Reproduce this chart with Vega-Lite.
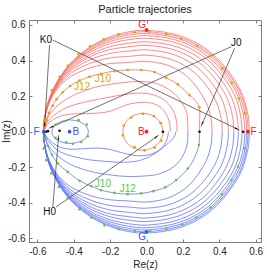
{
"$schema":"https://vega.github.io/schema/vega-lite/v6.json",
"width":232,"height":222,
"autosize":{"type":"none"},
"padding":{"left":29,"top":20,"right":6,"bottom":32},
"background":"white",
"title":{"text":"Particle trajectories","font":"Liberation Sans","fontSize":11,"fontWeight":"normal","color":"#1a1a1a","offset":5},
"config":{"view":{"stroke":"#7f7f7f","strokeWidth":1},"font":"Liberation Sans",
"axis":{"labelFont":"Liberation Sans","labelFontSize":10,"labelColor":"#262626","titleFont":"Liberation Sans","titleFontSize":10,"titleFontWeight":"normal","titleColor":"#262626","grid":false,"domainColor":"#7f7f7f","tickColor":"#7f7f7f","tickSize":-3,"labelPadding":7,"labelExpr":"replace(datum.label,'−','-')"}},
"datasets":{
"curves":[
{"c":"U0","i":0,"x":0.565,"y":0},{"c":"U0","i":1,"x":0.563,"y":0.05},{"c":"U0","i":2,"x":0.557,"y":0.099},{"c":"U0","i":3,"x":0.512,"y":0.241},{"c":"U0","i":4,"x":0.363,"y":0.437},{"c":"U0","i":5,"x":0.193,"y":0.536},{"c":"U0","i":6,"x":0,"y":0.57},{"c":"U0","i":7,"x":-0.1,"y":0.561},{"c":"U0","i":8,"x":-0.2,"y":0.533},{"c":"U0","i":9,"x":-0.3,"y":0.483},{"c":"U0","i":10,"x":-0.4,"y":0.403},{"c":"U0","i":11,"x":-0.46,"y":0.331},{"c":"U0","i":12,"x":-0.51,"y":0.245},{"c":"U0","i":13,"x":-0.545,"y":0.15},{"c":"U0","i":14,"x":-0.56,"y":0.076},{"c":"U0","i":15,"x":-0.565,"y":0},
{"c":"U1","i":0,"x":0.558,"y":0},{"c":"U1","i":1,"x":0.55,"y":0.098},{"c":"U1","i":2,"x":0.506,"y":0.238},{"c":"U1","i":3,"x":0.359,"y":0.43},{"c":"U1","i":4,"x":0.191,"y":0.528},{"c":"U1","i":5,"x":0,"y":0.562},{"c":"U1","i":6,"x":-0.1,"y":0.553},{"c":"U1","i":7,"x":-0.2,"y":0.526},{"c":"U1","i":8,"x":-0.3,"y":0.478},{"c":"U1","i":9,"x":-0.4,"y":0.399},{"c":"U1","i":10,"x":-0.46,"y":0.328},{"c":"U1","i":11,"x":-0.51,"y":0.243},{"c":"U1","i":12,"x":-0.545,"y":0.149},{"c":"U1","i":13,"x":-0.56,"y":0.075},{"c":"U1","i":14,"x":-0.565,"y":0},
{"c":"U2","i":0,"x":0.55,"y":0},{"c":"U2","i":1,"x":0.542,"y":0.096},{"c":"U2","i":2,"x":0.498,"y":0.233},{"c":"U2","i":3,"x":0.354,"y":0.423},{"c":"U2","i":4,"x":0.188,"y":0.519},{"c":"U2","i":5,"x":0,"y":0.552},{"c":"U2","i":6,"x":-0.1,"y":0.543},{"c":"U2","i":7,"x":-0.2,"y":0.518},{"c":"U2","i":8,"x":-0.3,"y":0.47},{"c":"U2","i":9,"x":-0.4,"y":0.395},{"c":"U2","i":10,"x":-0.46,"y":0.325},{"c":"U2","i":11,"x":-0.51,"y":0.242},{"c":"U2","i":12,"x":-0.545,"y":0.148},{"c":"U2","i":13,"x":-0.56,"y":0.075},{"c":"U2","i":14,"x":-0.565,"y":0},
{"c":"U3","i":0,"x":0.54,"y":0},{"c":"U3","i":1,"x":0.532,"y":0.094},{"c":"U3","i":2,"x":0.489,"y":0.228},{"c":"U3","i":3,"x":0.347,"y":0.414},{"c":"U3","i":4,"x":0.185,"y":0.508},{"c":"U3","i":5,"x":0,"y":0.54},{"c":"U3","i":6,"x":-0.1,"y":0.531},{"c":"U3","i":7,"x":-0.2,"y":0.507},{"c":"U3","i":8,"x":-0.3,"y":0.463},{"c":"U3","i":9,"x":-0.4,"y":0.389},{"c":"U3","i":10,"x":-0.46,"y":0.321},{"c":"U3","i":11,"x":-0.51,"y":0.239},{"c":"U3","i":12,"x":-0.545,"y":0.147},{"c":"U3","i":13,"x":-0.56,"y":0.074},{"c":"U3","i":14,"x":-0.565,"y":0},
{"c":"U4","i":0,"x":0.525,"y":0},{"c":"U4","i":1,"x":0.517,"y":0.091},{"c":"U4","i":2,"x":0.476,"y":0.222},{"c":"U4","i":3,"x":0.338,"y":0.402},{"c":"U4","i":4,"x":0.18,"y":0.494},{"c":"U4","i":5,"x":0,"y":0.525},{"c":"U4","i":6,"x":-0.1,"y":0.517},{"c":"U4","i":7,"x":-0.2,"y":0.495},{"c":"U4","i":8,"x":-0.3,"y":0.453},{"c":"U4","i":9,"x":-0.4,"y":0.382},{"c":"U4","i":10,"x":-0.46,"y":0.316},{"c":"U4","i":11,"x":-0.51,"y":0.236},{"c":"U4","i":12,"x":-0.545,"y":0.146},{"c":"U4","i":13,"x":-0.56,"y":0.074},{"c":"U4","i":14,"x":-0.565,"y":0},
{"c":"U5","i":0,"x":0.505,"y":0},{"c":"U5","i":1,"x":0.497,"y":0.088},{"c":"U5","i":2,"x":0.458,"y":0.214},{"c":"U5","i":3,"x":0.325,"y":0.387},{"c":"U5","i":4,"x":0.173,"y":0.475},{"c":"U5","i":5,"x":0,"y":0.505},{"c":"U5","i":6,"x":-0.1,"y":0.497},{"c":"U5","i":7,"x":-0.2,"y":0.478},{"c":"U5","i":8,"x":-0.3,"y":0.439},{"c":"U5","i":9,"x":-0.4,"y":0.373},{"c":"U5","i":10,"x":-0.46,"y":0.31},{"c":"U5","i":11,"x":-0.51,"y":0.233},{"c":"U5","i":12,"x":-0.545,"y":0.144},{"c":"U5","i":13,"x":-0.56,"y":0.073},{"c":"U5","i":14,"x":-0.565,"y":0},
{"c":"U6","i":0,"x":0.48,"y":0},{"c":"U6","i":1,"x":0.473,"y":0.084},{"c":"U6","i":2,"x":0.435,"y":0.205},{"c":"U6","i":3,"x":0.309,"y":0.372},{"c":"U6","i":4,"x":0.164,"y":0.456},{"c":"U6","i":5,"x":0,"y":0.485},{"c":"U6","i":6,"x":-0.1,"y":0.477},{"c":"U6","i":7,"x":-0.2,"y":0.462},{"c":"U6","i":8,"x":-0.3,"y":0.426},{"c":"U6","i":9,"x":-0.4,"y":0.364},{"c":"U6","i":10,"x":-0.46,"y":0.304},{"c":"U6","i":11,"x":-0.51,"y":0.229},{"c":"U6","i":12,"x":-0.545,"y":0.142},{"c":"U6","i":13,"x":-0.56,"y":0.072},{"c":"U6","i":14,"x":-0.565,"y":0},
{"c":"U7","i":0,"x":0.45,"y":0},{"c":"U7","i":1,"x":0.443,"y":0.08},{"c":"U7","i":2,"x":0.408,"y":0.195},{"c":"U7","i":3,"x":0.289,"y":0.352},{"c":"U7","i":4,"x":0.154,"y":0.432},{"c":"U7","i":5,"x":0,"y":0.46},{"c":"U7","i":6,"x":-0.1,"y":0.453},{"c":"U7","i":7,"x":-0.2,"y":0.44},{"c":"U7","i":8,"x":-0.3,"y":0.409},{"c":"U7","i":9,"x":-0.4,"y":0.353},{"c":"U7","i":10,"x":-0.46,"y":0.296},{"c":"U7","i":11,"x":-0.51,"y":0.224},{"c":"U7","i":12,"x":-0.545,"y":0.14},{"c":"U7","i":13,"x":-0.56,"y":0.071},{"c":"U7","i":14,"x":-0.565,"y":0},
{"c":"U8","i":0,"x":0.416,"y":0},{"c":"U8","i":1,"x":0.41,"y":0.075},{"c":"U8","i":2,"x":0.377,"y":0.182},{"c":"U8","i":3,"x":0.267,"y":0.329},{"c":"U8","i":4,"x":0.142,"y":0.404},{"c":"U8","i":5,"x":0,"y":0.43},{"c":"U8","i":6,"x":-0.1,"y":0.423},{"c":"U8","i":7,"x":-0.2,"y":0.415},{"c":"U8","i":8,"x":-0.3,"y":0.388},{"c":"U8","i":9,"x":-0.4,"y":0.339},{"c":"U8","i":10,"x":-0.46,"y":0.286},{"c":"U8","i":11,"x":-0.51,"y":0.218},{"c":"U8","i":12,"x":-0.545,"y":0.137},{"c":"U8","i":13,"x":-0.56,"y":0.07},{"c":"U8","i":14,"x":-0.565,"y":0},
{"c":"U9","i":0,"x":0.36,"y":0},{"c":"U9","i":1,"x":0.355,"y":0.069},{"c":"U9","i":2,"x":0.326,"y":0.167},{"c":"U9","i":3,"x":0.231,"y":0.303},{"c":"U9","i":4,"x":0.123,"y":0.371},{"c":"U9","i":5,"x":0,"y":0.395},{"c":"U9","i":6,"x":-0.1,"y":0.389},{"c":"U9","i":7,"x":-0.2,"y":0.383},{"c":"U9","i":8,"x":-0.3,"y":0.362},{"c":"U9","i":9,"x":-0.4,"y":0.32},{"c":"U9","i":10,"x":-0.46,"y":0.275},{"c":"U9","i":11,"x":-0.51,"y":0.211},{"c":"U9","i":12,"x":-0.545,"y":0.134},{"c":"U9","i":13,"x":-0.56,"y":0.068},{"c":"U9","i":14,"x":-0.565,"y":0},
{"c":"UJ","i":0,"x":0.291,"y":0},{"c":"UJ","i":1,"x":0.292,"y":0.07},{"c":"UJ","i":2,"x":0.29,"y":0.137},{"c":"UJ","i":3,"x":0.265,"y":0.178},{"c":"UJ","i":4,"x":0.236,"y":0.206},{"c":"UJ","i":5,"x":0.172,"y":0.266},{"c":"UJ","i":6,"x":0.108,"y":0.303},{"c":"UJ","i":7,"x":0.044,"y":0.335},{"c":"UJ","i":8,"x":-0.029,"y":0.347},{"c":"UJ","i":9,"x":-0.103,"y":0.347},{"c":"UJ","i":10,"x":-0.176,"y":0.341},{"c":"UJ","i":11,"x":-0.25,"y":0.326},{"c":"UJ","i":12,"x":-0.313,"y":0.309},{"c":"UJ","i":13,"x":-0.368,"y":0.287},{"c":"UJ","i":14,"x":-0.42,"y":0.257},{"c":"UJ","i":15,"x":-0.46,"y":0.222},{"c":"UJ","i":16,"x":-0.494,"y":0.183},{"c":"UJ","i":17,"x":-0.516,"y":0.146},{"c":"UJ","i":18,"x":-0.536,"y":0.106},{"c":"UJ","i":19,"x":-0.55,"y":0.065},{"c":"UJ","i":20,"x":-0.558,"y":0.028},{"c":"UJ","i":21,"x":-0.565,"y":0},
{"c":"UK","i":0,"x":0.227,"y":0},{"c":"UK","i":1,"x":0.226,"y":0.05},{"c":"UK","i":2,"x":0.22,"y":0.11},{"c":"UK","i":3,"x":0.19,"y":0.17},{"c":"UK","i":4,"x":0.14,"y":0.225},{"c":"UK","i":5,"x":0.07,"y":0.265},{"c":"UK","i":6,"x":0,"y":0.281},{"c":"UK","i":7,"x":-0.1,"y":0.279},{"c":"UK","i":8,"x":-0.2,"y":0.266},{"c":"UK","i":9,"x":-0.3,"y":0.245},{"c":"UK","i":10,"x":-0.4,"y":0.205},{"c":"UK","i":11,"x":-0.46,"y":0.17},{"c":"UK","i":12,"x":-0.51,"y":0.125},{"c":"UK","i":13,"x":-0.545,"y":0.075},{"c":"UK","i":14,"x":-0.565,"y":0},
{"c":"UL","i":0,"x":0.167,"y":0},{"c":"UL","i":1,"x":0.166,"y":0.04},{"c":"UL","i":2,"x":0.158,"y":0.09},{"c":"UL","i":3,"x":0.13,"y":0.145},{"c":"UL","i":4,"x":0.08,"y":0.19},{"c":"UL","i":5,"x":0,"y":0.215},{"c":"UL","i":6,"x":-0.1,"y":0.212},{"c":"UL","i":7,"x":-0.2,"y":0.195},{"c":"UL","i":8,"x":-0.3,"y":0.175},{"c":"UL","i":9,"x":-0.4,"y":0.15},{"c":"UL","i":10,"x":-0.46,"y":0.125},{"c":"UL","i":11,"x":-0.51,"y":0.09},{"c":"UL","i":12,"x":-0.545,"y":0.055},{"c":"UL","i":13,"x":-0.565,"y":0},
{"c":"UM","i":0,"x":0.13,"y":0},{"c":"UM","i":1,"x":0.128,"y":0.04},{"c":"UM","i":2,"x":0.115,"y":0.085},{"c":"UM","i":3,"x":0.08,"y":0.135},{"c":"UM","i":4,"x":0.03,"y":0.16},{"c":"UM","i":5,"x":-0.02,"y":0.165},{"c":"UM","i":6,"x":-0.09,"y":0.157},{"c":"UM","i":7,"x":-0.15,"y":0.135},{"c":"UM","i":8,"x":-0.2,"y":0.115},{"c":"UM","i":9,"x":-0.26,"y":0.105},{"c":"UM","i":10,"x":-0.33,"y":0.102},{"c":"UM","i":11,"x":-0.4,"y":0.1},{"c":"UM","i":12,"x":-0.46,"y":0.092},{"c":"UM","i":13,"x":-0.51,"y":0.07},{"c":"UM","i":14,"x":-0.545,"y":0.04},{"c":"UM","i":15,"x":-0.565,"y":0},
{"c":"L0","i":0,"x":0.565,"y":0},{"c":"L0","i":1,"x":0.563,"y":-0.05},{"c":"L0","i":2,"x":0.557,"y":-0.099},{"c":"L0","i":3,"x":0.512,"y":-0.241},{"c":"L0","i":4,"x":0.363,"y":-0.437},{"c":"L0","i":5,"x":0.193,"y":-0.536},{"c":"L0","i":6,"x":0,"y":-0.57},{"c":"L0","i":7,"x":-0.1,"y":-0.561},{"c":"L0","i":8,"x":-0.2,"y":-0.533},{"c":"L0","i":9,"x":-0.3,"y":-0.483},{"c":"L0","i":10,"x":-0.4,"y":-0.403},{"c":"L0","i":11,"x":-0.46,"y":-0.331},{"c":"L0","i":12,"x":-0.51,"y":-0.245},{"c":"L0","i":13,"x":-0.545,"y":-0.15},{"c":"L0","i":14,"x":-0.56,"y":-0.076},{"c":"L0","i":15,"x":-0.565,"y":0},
{"c":"L1","i":0,"x":0.558,"y":0},{"c":"L1","i":1,"x":0.55,"y":-0.098},{"c":"L1","i":2,"x":0.506,"y":-0.238},{"c":"L1","i":3,"x":0.359,"y":-0.43},{"c":"L1","i":4,"x":0.191,"y":-0.528},{"c":"L1","i":5,"x":0,"y":-0.562},{"c":"L1","i":6,"x":-0.1,"y":-0.553},{"c":"L1","i":7,"x":-0.2,"y":-0.526},{"c":"L1","i":8,"x":-0.3,"y":-0.478},{"c":"L1","i":9,"x":-0.4,"y":-0.399},{"c":"L1","i":10,"x":-0.46,"y":-0.328},{"c":"L1","i":11,"x":-0.51,"y":-0.243},{"c":"L1","i":12,"x":-0.545,"y":-0.149},{"c":"L1","i":13,"x":-0.56,"y":-0.075},{"c":"L1","i":14,"x":-0.565,"y":0},
{"c":"L2","i":0,"x":0.55,"y":0},{"c":"L2","i":1,"x":0.542,"y":-0.096},{"c":"L2","i":2,"x":0.498,"y":-0.233},{"c":"L2","i":3,"x":0.354,"y":-0.423},{"c":"L2","i":4,"x":0.188,"y":-0.519},{"c":"L2","i":5,"x":0,"y":-0.552},{"c":"L2","i":6,"x":-0.1,"y":-0.543},{"c":"L2","i":7,"x":-0.2,"y":-0.518},{"c":"L2","i":8,"x":-0.3,"y":-0.47},{"c":"L2","i":9,"x":-0.4,"y":-0.395},{"c":"L2","i":10,"x":-0.46,"y":-0.325},{"c":"L2","i":11,"x":-0.51,"y":-0.242},{"c":"L2","i":12,"x":-0.545,"y":-0.148},{"c":"L2","i":13,"x":-0.56,"y":-0.075},{"c":"L2","i":14,"x":-0.565,"y":0},
{"c":"L3","i":0,"x":0.54,"y":0},{"c":"L3","i":1,"x":0.532,"y":-0.094},{"c":"L3","i":2,"x":0.489,"y":-0.228},{"c":"L3","i":3,"x":0.347,"y":-0.414},{"c":"L3","i":4,"x":0.185,"y":-0.508},{"c":"L3","i":5,"x":0,"y":-0.54},{"c":"L3","i":6,"x":-0.1,"y":-0.531},{"c":"L3","i":7,"x":-0.2,"y":-0.507},{"c":"L3","i":8,"x":-0.3,"y":-0.463},{"c":"L3","i":9,"x":-0.4,"y":-0.389},{"c":"L3","i":10,"x":-0.46,"y":-0.321},{"c":"L3","i":11,"x":-0.51,"y":-0.239},{"c":"L3","i":12,"x":-0.545,"y":-0.147},{"c":"L3","i":13,"x":-0.56,"y":-0.074},{"c":"L3","i":14,"x":-0.565,"y":0},
{"c":"L4","i":0,"x":0.525,"y":0},{"c":"L4","i":1,"x":0.517,"y":-0.091},{"c":"L4","i":2,"x":0.476,"y":-0.222},{"c":"L4","i":3,"x":0.338,"y":-0.402},{"c":"L4","i":4,"x":0.18,"y":-0.494},{"c":"L4","i":5,"x":0,"y":-0.525},{"c":"L4","i":6,"x":-0.1,"y":-0.517},{"c":"L4","i":7,"x":-0.2,"y":-0.495},{"c":"L4","i":8,"x":-0.3,"y":-0.453},{"c":"L4","i":9,"x":-0.4,"y":-0.382},{"c":"L4","i":10,"x":-0.46,"y":-0.316},{"c":"L4","i":11,"x":-0.51,"y":-0.236},{"c":"L4","i":12,"x":-0.545,"y":-0.146},{"c":"L4","i":13,"x":-0.56,"y":-0.074},{"c":"L4","i":14,"x":-0.565,"y":0},
{"c":"L5","i":0,"x":0.505,"y":0},{"c":"L5","i":1,"x":0.497,"y":-0.088},{"c":"L5","i":2,"x":0.458,"y":-0.214},{"c":"L5","i":3,"x":0.325,"y":-0.387},{"c":"L5","i":4,"x":0.173,"y":-0.475},{"c":"L5","i":5,"x":0,"y":-0.505},{"c":"L5","i":6,"x":-0.1,"y":-0.497},{"c":"L5","i":7,"x":-0.2,"y":-0.478},{"c":"L5","i":8,"x":-0.3,"y":-0.439},{"c":"L5","i":9,"x":-0.4,"y":-0.373},{"c":"L5","i":10,"x":-0.46,"y":-0.31},{"c":"L5","i":11,"x":-0.51,"y":-0.233},{"c":"L5","i":12,"x":-0.545,"y":-0.144},{"c":"L5","i":13,"x":-0.56,"y":-0.073},{"c":"L5","i":14,"x":-0.565,"y":0},
{"c":"L6","i":0,"x":0.48,"y":0},{"c":"L6","i":1,"x":0.473,"y":-0.084},{"c":"L6","i":2,"x":0.435,"y":-0.205},{"c":"L6","i":3,"x":0.309,"y":-0.372},{"c":"L6","i":4,"x":0.164,"y":-0.456},{"c":"L6","i":5,"x":0,"y":-0.485},{"c":"L6","i":6,"x":-0.1,"y":-0.477},{"c":"L6","i":7,"x":-0.2,"y":-0.462},{"c":"L6","i":8,"x":-0.3,"y":-0.426},{"c":"L6","i":9,"x":-0.4,"y":-0.364},{"c":"L6","i":10,"x":-0.46,"y":-0.304},{"c":"L6","i":11,"x":-0.51,"y":-0.229},{"c":"L6","i":12,"x":-0.545,"y":-0.142},{"c":"L6","i":13,"x":-0.56,"y":-0.072},{"c":"L6","i":14,"x":-0.565,"y":0},
{"c":"L7","i":0,"x":0.45,"y":0},{"c":"L7","i":1,"x":0.443,"y":-0.08},{"c":"L7","i":2,"x":0.408,"y":-0.195},{"c":"L7","i":3,"x":0.289,"y":-0.352},{"c":"L7","i":4,"x":0.154,"y":-0.432},{"c":"L7","i":5,"x":0,"y":-0.46},{"c":"L7","i":6,"x":-0.1,"y":-0.453},{"c":"L7","i":7,"x":-0.2,"y":-0.44},{"c":"L7","i":8,"x":-0.3,"y":-0.409},{"c":"L7","i":9,"x":-0.4,"y":-0.353},{"c":"L7","i":10,"x":-0.46,"y":-0.296},{"c":"L7","i":11,"x":-0.51,"y":-0.224},{"c":"L7","i":12,"x":-0.545,"y":-0.14},{"c":"L7","i":13,"x":-0.56,"y":-0.071},{"c":"L7","i":14,"x":-0.565,"y":0},
{"c":"L8","i":0,"x":0.416,"y":0},{"c":"L8","i":1,"x":0.41,"y":-0.075},{"c":"L8","i":2,"x":0.377,"y":-0.182},{"c":"L8","i":3,"x":0.267,"y":-0.329},{"c":"L8","i":4,"x":0.142,"y":-0.404},{"c":"L8","i":5,"x":0,"y":-0.43},{"c":"L8","i":6,"x":-0.1,"y":-0.423},{"c":"L8","i":7,"x":-0.2,"y":-0.415},{"c":"L8","i":8,"x":-0.3,"y":-0.388},{"c":"L8","i":9,"x":-0.4,"y":-0.339},{"c":"L8","i":10,"x":-0.46,"y":-0.286},{"c":"L8","i":11,"x":-0.51,"y":-0.218},{"c":"L8","i":12,"x":-0.545,"y":-0.137},{"c":"L8","i":13,"x":-0.56,"y":-0.07},{"c":"L8","i":14,"x":-0.565,"y":0},
{"c":"L9","i":0,"x":0.36,"y":0},{"c":"L9","i":1,"x":0.355,"y":-0.069},{"c":"L9","i":2,"x":0.326,"y":-0.167},{"c":"L9","i":3,"x":0.231,"y":-0.303},{"c":"L9","i":4,"x":0.123,"y":-0.371},{"c":"L9","i":5,"x":0,"y":-0.395},{"c":"L9","i":6,"x":-0.1,"y":-0.389},{"c":"L9","i":7,"x":-0.2,"y":-0.383},{"c":"L9","i":8,"x":-0.3,"y":-0.362},{"c":"L9","i":9,"x":-0.4,"y":-0.32},{"c":"L9","i":10,"x":-0.46,"y":-0.275},{"c":"L9","i":11,"x":-0.51,"y":-0.211},{"c":"L9","i":12,"x":-0.545,"y":-0.134},{"c":"L9","i":13,"x":-0.56,"y":-0.068},{"c":"L9","i":14,"x":-0.565,"y":0},
{"c":"LJ","i":0,"x":0.291,"y":0},{"c":"LJ","i":1,"x":0.291,"y":-0.03},{"c":"LJ","i":2,"x":0.288,"y":-0.075},{"c":"LJ","i":3,"x":0.262,"y":-0.15},{"c":"LJ","i":4,"x":0.227,"y":-0.207},{"c":"LJ","i":5,"x":0.163,"y":-0.272},{"c":"LJ","i":6,"x":0.103,"y":-0.313},{"c":"LJ","i":7,"x":0.038,"y":-0.334},{"c":"LJ","i":8,"x":-0.029,"y":-0.347},{"c":"LJ","i":9,"x":-0.103,"y":-0.351},{"c":"LJ","i":10,"x":-0.176,"y":-0.344},{"c":"LJ","i":11,"x":-0.249,"y":-0.329},{"c":"LJ","i":12,"x":-0.304,"y":-0.306},{"c":"LJ","i":13,"x":-0.368,"y":-0.276},{"c":"LJ","i":14,"x":-0.433,"y":-0.226},{"c":"LJ","i":15,"x":-0.488,"y":-0.178},{"c":"LJ","i":16,"x":-0.52,"y":-0.13},{"c":"LJ","i":17,"x":-0.542,"y":-0.08},{"c":"LJ","i":18,"x":-0.557,"y":-0.035},{"c":"LJ","i":19,"x":-0.565,"y":0},
{"c":"LK","i":0,"x":0.227,"y":0},{"c":"LK","i":1,"x":0.226,"y":-0.05},{"c":"LK","i":2,"x":0.215,"y":-0.1},{"c":"LK","i":3,"x":0.185,"y":-0.16},{"c":"LK","i":4,"x":0.13,"y":-0.21},{"c":"LK","i":5,"x":0.06,"y":-0.24},{"c":"LK","i":6,"x":0,"y":-0.248},{"c":"LK","i":7,"x":-0.1,"y":-0.252},{"c":"LK","i":8,"x":-0.2,"y":-0.243},{"c":"LK","i":9,"x":-0.3,"y":-0.225},{"c":"LK","i":10,"x":-0.4,"y":-0.192},{"c":"LK","i":11,"x":-0.46,"y":-0.158},{"c":"LK","i":12,"x":-0.51,"y":-0.115},{"c":"LK","i":13,"x":-0.545,"y":-0.068},{"c":"LK","i":14,"x":-0.565,"y":0},
{"c":"LL","i":0,"x":0.16,"y":0},{"c":"LL","i":1,"x":0.152,"y":-0.03},{"c":"LL","i":2,"x":0.108,"y":-0.074},{"c":"LL","i":3,"x":0.035,"y":-0.13},{"c":"LL","i":4,"x":-0.038,"y":-0.162},{"c":"LL","i":5,"x":-0.13,"y":-0.172},{"c":"LL","i":6,"x":-0.222,"y":-0.167},{"c":"LL","i":7,"x":-0.313,"y":-0.158},{"c":"LL","i":8,"x":-0.405,"y":-0.139},{"c":"LL","i":9,"x":-0.478,"y":-0.111},{"c":"LL","i":10,"x":-0.525,"y":-0.07},{"c":"LL","i":11,"x":-0.553,"y":-0.03},{"c":"LL","i":12,"x":-0.565,"y":0},
{"c":"LM","i":0,"x":0.12,"y":0},{"c":"LM","i":1,"x":0.112,"y":-0.045},{"c":"LM","i":2,"x":0.08,"y":-0.095},{"c":"LM","i":3,"x":0.02,"y":-0.128},{"c":"LM","i":4,"x":-0.05,"y":-0.135},{"c":"LM","i":5,"x":-0.13,"y":-0.12},{"c":"LM","i":6,"x":-0.2,"y":-0.1},{"c":"LM","i":7,"x":-0.27,"y":-0.092},{"c":"LM","i":8,"x":-0.34,"y":-0.095},{"c":"LM","i":9,"x":-0.42,"y":-0.098},{"c":"LM","i":10,"x":-0.48,"y":-0.085},{"c":"LM","i":11,"x":-0.525,"y":-0.055},{"c":"LM","i":12,"x":-0.552,"y":-0.025},{"c":"LM","i":13,"x":-0.565,"y":0}
],
"loops":[
{"c":"RL","i":0,"x":0.09,"y":0},{"c":"RL","i":1,"x":0.075,"y":0.052},{"c":"RL","i":2,"x":0.035,"y":0.089},{"c":"RL","i":3,"x":-0.02,"y":0.103},{"c":"RL","i":4,"x":-0.075,"y":0.089},{"c":"RL","i":5,"x":-0.115,"y":0.052},{"c":"RL","i":6,"x":-0.13,"y":0},{"c":"RL","i":7,"x":-0.115,"y":-0.052},{"c":"RL","i":8,"x":-0.075,"y":-0.089},{"c":"RL","i":9,"x":-0.02,"y":-0.105},{"c":"RL","i":10,"x":0.035,"y":-0.089},{"c":"RL","i":11,"x":0.075,"y":-0.052},
{"c":"BL","i":0,"x":-0.32,"y":0},{"c":"BL","i":1,"x":-0.333,"y":0.033},{"c":"BL","i":2,"x":-0.37,"y":0.057},{"c":"BL","i":3,"x":-0.42,"y":0.066},{"c":"BL","i":4,"x":-0.47,"y":0.057},{"c":"BL","i":5,"x":-0.507,"y":0.033},{"c":"BL","i":6,"x":-0.52,"y":0},{"c":"BL","i":7,"x":-0.507,"y":-0.033},{"c":"BL","i":8,"x":-0.47,"y":-0.057},{"c":"BL","i":9,"x":-0.42,"y":-0.066},{"c":"BL","i":10,"x":-0.37,"y":-0.057},{"c":"BL","i":11,"x":-0.333,"y":-0.033}
],
"dots":[
{"f":"o","x":0.539,"y":0.103},{"f":"o","x":0.507,"y":0.187},{"f":"o","x":0.469,"y":0.275},{"f":"o","x":0.416,"y":0.356},{"f":"o","x":0.35,"y":0.427},{"f":"o","x":0.277,"y":0.482},{"f":"o","x":0.191,"y":0.521},{"f":"o","x":0.108,"y":0.548},{"f":"o","x":0.016,"y":0.562},{"f":"o","x":-0.066,"y":0.559},{"f":"o","x":-0.154,"y":0.548},{"f":"o","x":-0.235,"y":0.52},{"f":"o","x":-0.31,"y":0.48},{"f":"o","x":-0.374,"y":0.435},{"f":"o","x":-0.433,"y":0.371},{"f":"o","x":-0.478,"y":0.309},{"f":"o","x":-0.52,"y":0.234},{"f":"o","x":-0.548,"y":0.15},{"f":"o","x":-0.562,"y":0.065},
{"f":"o","x":0.291,"y":0.137},{"f":"o","x":0.236,"y":0.206},{"f":"o","x":0.172,"y":0.266},{"f":"o","x":0.108,"y":0.303},{"f":"o","x":0.044,"y":0.335},{"f":"o","x":-0.029,"y":0.347},{"f":"o","x":-0.103,"y":0.347},{"f":"o","x":-0.176,"y":0.341},{"f":"o","x":-0.25,"y":0.326},{"f":"o","x":-0.313,"y":0.309},{"f":"o","x":-0.368,"y":0.287},{"f":"o","x":-0.42,"y":0.257},{"f":"o","x":-0.46,"y":0.222},{"f":"o","x":-0.494,"y":0.183},{"f":"o","x":-0.516,"y":0.146},{"f":"o","x":-0.536,"y":0.106},{"f":"o","x":-0.55,"y":0.065},{"f":"o","x":-0.558,"y":0.028},
{"f":"o","x":-0.125,"y":0.035},{"f":"o","x":-0.084,"y":0.08},{"f":"o","x":-0.02,"y":0.1},{"f":"o","x":0.04,"y":0.088},{"f":"o","x":0.078,"y":0.048},{"f":"o","x":0.081,"y":-0.051},{"f":"o","x":0.044,"y":-0.09},{"f":"o","x":-0.011,"y":-0.105},{"f":"o","x":-0.066,"y":-0.087},{"f":"o","x":-0.13,"y":-0.021},
{"f":"g","x":0.539,"y":-0.094},{"f":"g","x":0.502,"y":-0.197},{"f":"g","x":0.466,"y":-0.272},{"f":"g","x":0.414,"y":-0.353},{"f":"g","x":0.352,"y":-0.426},{"f":"g","x":0.273,"y":-0.482},{"f":"g","x":0.196,"y":-0.522},{"f":"g","x":0.108,"y":-0.548},{"f":"g","x":0.02,"y":-0.559},{"f":"g","x":-0.066,"y":-0.558},{"f":"g","x":-0.152,"y":-0.548},{"f":"g","x":-0.231,"y":-0.526},{"f":"g","x":-0.304,"y":-0.482},{"f":"g","x":-0.368,"y":-0.436},{"f":"g","x":-0.433,"y":-0.375},{"f":"g","x":-0.482,"y":-0.31},{"f":"g","x":-0.524,"y":-0.235},{"f":"g","x":-0.551,"y":-0.16},{"f":"g","x":-0.565,"y":-0.094},
{"f":"g","x":0.288,"y":-0.075},{"f":"g","x":0.227,"y":-0.207},{"f":"g","x":0.163,"y":-0.272},{"f":"g","x":0.103,"y":-0.313},{"f":"g","x":0.038,"y":-0.334},{"f":"g","x":-0.029,"y":-0.347},{"f":"g","x":-0.103,"y":-0.351},{"f":"g","x":-0.176,"y":-0.344},{"f":"g","x":-0.249,"y":-0.329},{"f":"g","x":-0.304,"y":-0.306},{"f":"g","x":-0.368,"y":-0.276},{"f":"g","x":-0.433,"y":-0.226},{"f":"g","x":-0.488,"y":-0.178},{"f":"g","x":-0.52,"y":-0.13},{"f":"g","x":-0.542,"y":-0.08},{"f":"g","x":-0.557,"y":-0.035},
{"f":"g","x":-0.323,"y":-0.026},{"f":"g","x":-0.359,"y":-0.058},{"f":"g","x":-0.405,"y":-0.068},{"f":"g","x":-0.441,"y":-0.06},{"f":"g","x":-0.5,"y":-0.035},{"f":"g","x":-0.5,"y":0.04},{"f":"g","x":-0.447,"y":0.06},{"f":"g","x":-0.374,"y":0.065},{"f":"g","x":-0.328,"y":0.04},
{"f":"k","x":0.09,"y":0},{"f":"k","x":0.291,"y":0},{"f":"k","x":0.53,"y":0},{"f":"k","x":-0.478,"y":0.005},{"f":"k","x":-0.552,"y":0},{"f":"k","x":-0.542,"y":0.003}
],
"marks":[
{"f":"r","x":0,"y":0.572},{"f":"r","x":0.557,"y":0},{"f":"r","x":0,"y":0},
{"f":"b","x":-0.423,"y":0},{"f":"b","x":0,"y":-0.563},{"f":"b","x":-0.565,"y":0}
],
"labels":[
{"f":"r","t":"G","x":-0.024,"y":0.6},{"f":"r","t":"F","x":0.588,"y":0},{"f":"r","t":"B","x":-0.029,"y":0},
{"f":"b","t":"F","x":-0.604,"y":0},{"f":"b","t":"G","x":-0.024,"y":-0.592},{"f":"b","t":"B","x":-0.388,"y":0},
{"f":"k","t":"K0","x":-0.553,"y":0.515},{"f":"k","t":"J0","x":0.493,"y":0.497},{"f":"k","t":"H0","x":-0.533,"y":-0.451},
{"f":"o","t":"J10","x":-0.24,"y":0.294},{"f":"o","t":"J12","x":-0.354,"y":0.249},
{"f":"g","t":"J10","x":-0.24,"y":-0.295},{"f":"g","t":"J12","x":-0.103,"y":-0.323}
],
"arrows":[
{"id":"A1","x":-0.533,"y":0.487,"x2":-0.561,"y2":0.02},
{"id":"A2","x":-0.515,"y":0.515,"x2":0.511,"y2":0.009},
{"id":"A3","x":0.484,"y":0.469,"x2":0.3,"y2":0.03},
{"id":"A4","x":0.466,"y":0.478,"x2":-0.537,"y2":0.019},
{"id":"A5","x":-0.515,"y":-0.423,"x2":-0.483,"y2":-0.019},
{"id":"A6","x":-0.497,"y":-0.423,"x2":0.068,"y2":-0.019}
],
"heads":[
{"id":"A1","x":-0.56,"y":0.035},{"id":"A2","x":0.496,"y":0.016},{"id":"A3","x":0.306,"y":0.046},{"id":"A4","x":-0.522,"y":0.026},{"id":"A5","x":-0.484,"y":-0.036},{"id":"A6","x":0.054,"y":-0.029}
]
},
"resolve":{"axis":{"x":"independent","y":"independent"}},
"layer":[
{
"encoding":{
"x":{"field":"x","type":"quantitative","scale":{"domain":[-0.646,0.629],"nice":false,"zero":false},"axis":{"values":[-0.6,-0.4,-0.2,0,0.2,0.4,0.6],"format":".1f","title":"Re(z)","titleX":116,"titleY":22,"titleBaseline":"middle","titleAlign":"center"}},
"y":{"field":"y","type":"quantitative","scale":{"domain":[-0.62,0.628],"nice":false,"zero":false},"axis":{"values":[-0.6,-0.4,-0.2,0,0.2,0.4,0.6],"format":".1f","title":"Im(z)","titleX":-23,"titleY":111,"titleBaseline":"middle","titleAlign":"center"}}
},
"layer":[
{"data":{"name":"curves"},"transform":[{"filter":"test(/^U/, datum.c)"}],"mark":{"type":"line","interpolate":"catmull-rom","strokeWidth":0.8,"color":"#ff6a6a"},"encoding":{"detail":{"field":"c"},"order":{"field":"i","type":"quantitative"}}},
{"data":{"name":"curves"},"transform":[{"filter":"test(/^L/, datum.c)"}],"mark":{"type":"line","interpolate":"catmull-rom","strokeWidth":0.8,"color":"#6272ff"},"encoding":{"detail":{"field":"c"},"order":{"field":"i","type":"quantitative"}}},
{"data":{"name":"loops"},"transform":[{"filter":"datum.c=='RL'"}],"mark":{"type":"line","interpolate":"cardinal-closed","strokeWidth":0.8,"color":"#ff6a6a"},"encoding":{"detail":{"field":"c"},"order":{"field":"i","type":"quantitative"}}},
{"data":{"name":"loops"},"transform":[{"filter":"datum.c=='BL'"}],"mark":{"type":"line","interpolate":"cardinal-closed","strokeWidth":0.8,"color":"#6272ff"},"encoding":{"detail":{"field":"c"},"order":{"field":"i","type":"quantitative"}}},
{"data":{"name":"arrows"},"mark":{"type":"rule","color":"#333333","strokeWidth":0.7},"encoding":{"x2":{"field":"x2"},"y2":{"field":"y2"}}},
{"data":{"name":"dots"},"mark":{"type":"circle","size":7,"opacity":1},"encoding":{"color":{"field":"f","type":"nominal","legend":null,"scale":{"domain":["r","b","k","o","g"],"range":["#ff1a1a","#3355ff","#111111","#d4a800","#5cc83c"]}}}},
{"data":{"name":"marks"},"mark":{"type":"circle","size":14,"opacity":1},"encoding":{"color":{"field":"f","type":"nominal","legend":null}}},
{"data":{"name":"heads"},"transform":[{"filter":"datum.id=='A1'"}],"mark":{"type":"point","shape":"M0,-1L0.45,1L-0.45,1Z","filled":true,"size":14,"angle":183,"color":"#111111","opacity":1}},
{"data":{"name":"heads"},"transform":[{"filter":"datum.id=='A2'"}],"mark":{"type":"point","shape":"M0,-1L0.45,1L-0.45,1Z","filled":true,"size":14,"angle":116,"color":"#111111","opacity":1}},
{"data":{"name":"heads"},"transform":[{"filter":"datum.id=='A3'"}],"mark":{"type":"point","shape":"M0,-1L0.45,1L-0.45,1Z","filled":true,"size":14,"angle":203,"color":"#111111","opacity":1}},
{"data":{"name":"heads"},"transform":[{"filter":"datum.id=='A4'"}],"mark":{"type":"point","shape":"M0,-1L0.45,1L-0.45,1Z","filled":true,"size":14,"angle":246,"color":"#111111","opacity":1}},
{"data":{"name":"heads"},"transform":[{"filter":"datum.id=='A5'"}],"mark":{"type":"point","shape":"M0,-1L0.45,1L-0.45,1Z","filled":true,"size":14,"angle":5,"color":"#111111","opacity":1}},
{"data":{"name":"heads"},"transform":[{"filter":"datum.id=='A6'"}],"mark":{"type":"point","shape":"M0,-1L0.45,1L-0.45,1Z","filled":true,"size":14,"angle":55,"color":"#111111","opacity":1}},
{"data":{"name":"labels"},"mark":{"type":"text","font":"Liberation Sans","fontSize":10,"baseline":"middle","align":"center"},"encoding":{"text":{"field":"t"},"color":{"field":"f","type":"nominal","legend":null}}}
]
},
{
"data":{"name":"marks"},
"mark":{"type":"point","opacity":0},
"encoding":{
"x":{"field":"x","type":"quantitative","scale":{"domain":[-0.646,0.629],"nice":false,"zero":false},"axis":{"orient":"top","values":[-0.6,-0.4,-0.2,0,0.2,0.4,0.6],"labels":false,"title":null,"domain":false}},
"y":{"field":"y","type":"quantitative","scale":{"domain":[-0.62,0.628],"nice":false,"zero":false},"axis":{"orient":"right","values":[-0.6,-0.4,-0.2,0,0.2,0.4,0.6],"labels":false,"title":null,"domain":false}}
}
}
]
}
